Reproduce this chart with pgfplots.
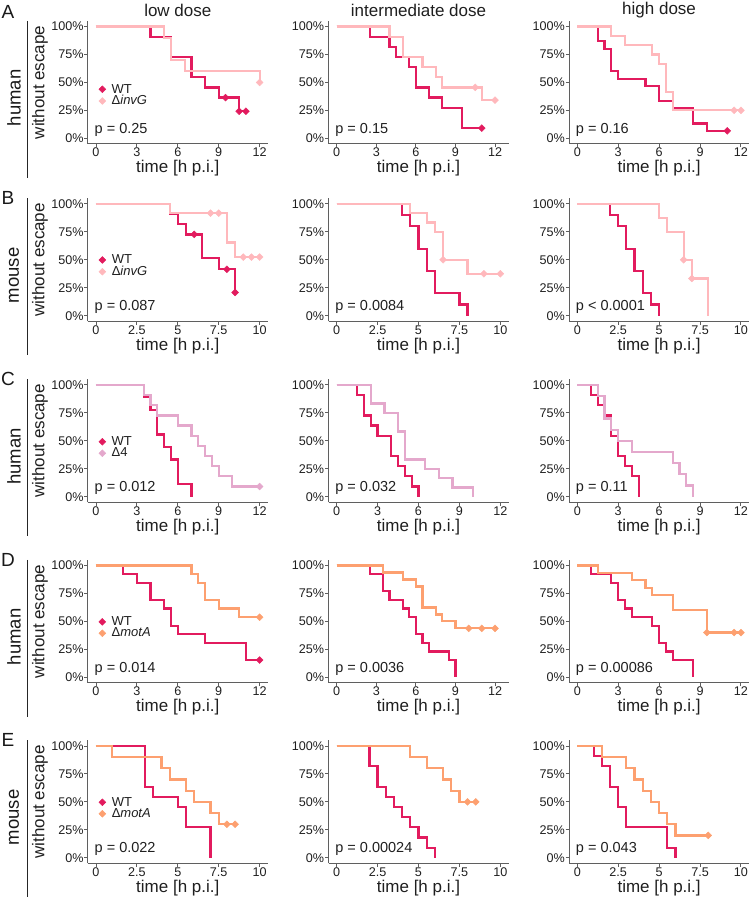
\documentclass[border=0pt]{standalone}
\usepackage{fontspec}
\setmainfont{Liberation Sans}
\usepackage{pgfplots}
\pgfplotsset{compat=1.18}
\definecolor{wt}{RGB}{226,27,94}
\definecolor{inv}{RGB}{255,184,188}
\definecolor{dfour}{RGB}{228,168,204}
\definecolor{mot}{RGB}{253,160,112}
\definecolor{axgray}{RGB}{95,95,95}
\newcommand{\fs}[1]{\fontsize{#1}{#1}\selectfont}
\pgfplotsset{
  km/.style={scale only axis, width=180pt, height=123pt, ymin=-0.05, ymax=1.05,
    ytick={0,0.25,0.5,0.75,1}, yticklabels={0\%,25\%,50\%,75\%,100\%},
    axis x line*=bottom, axis y line*=left,
    axis line style={axgray, line width=0.9pt},
    tick align=outside, major tick length=3.5pt,
    tick style={axgray, line width=0.9pt},
    tick label style={font=\fs{12.6}, text=black!88, inner sep=0.6pt},
    xlabel={time [h p.i.]},
    every axis x label/.style={at={(axis description cs:0.5,-0.198)}, anchor=center, font=\fs{17}, text=black!88},
    clip=false, anchor=south west},
  x12/.style={xmin=-0.6, xmax=12.6, xtick={0,3,6,9,12}, xticklabels={0,3,6,9,12}},
  x12w/.style={xmin=-0.62, xmax=13.02, xtick={0,3,6,9,12}, xticklabels={0,3,6,9,12}},
  x10/.style={xmin=-0.5, xmax=10.5, xtick={0,2.5,5,7.5,10}, xticklabels={0,2.5,5,7.5,10}},
  dotlegend/.style={legend image code/.code={\draw[##1] plot coordinates {(0.1cm,0cm)};}},
  first/.style 2 args={ylabel={without escape},
    every axis y label/.style={at={(axis description cs:-0.266,0.5)}, rotate=90, anchor=center, font=\fs{17}, text=black!88},
    legend cell align=left,
    legend style={at={(axis cs:#1,#2)}, anchor=west, draw=none, fill=none,
      font=\fs{13}, inner sep=0pt, row sep=-1pt, text=black!88,
      nodes={inner sep=1pt},
      /tikz/every odd column/.append style={column sep=5pt}}},
  ttl/.style={title={#1}, every axis title/.style={at={(axis description cs:0.5,1)}, anchor=center, yshift=10.9pt, font=\fs{17}, text=black!88}},
  ln/.style={const plot, #1, line width=2.2pt, forget plot},
  cen/.style={only marks, mark=square*, mark size=2.4pt, mark options={rotate=45, fill=#1, draw=#1, line width=0.5pt}, #1, forget plot},
  leg/.style={mark=square*, mark size=2.4pt, mark options={rotate=45, fill=#1, draw=#1, line width=0.5pt}, #1, dotlegend},
}
\newcommand{\pval}[1]{\node[anchor=west, inner sep=0pt, font=\fs{14.5}, text=black!88, xshift=-1.5pt] at (axis cs:0,0.075) {#1};}
\newcommand{\rowdeco}[4]{% #1 letter, #2 label, #3 axis-top pixel y, #4 letter pixel y
  \node[font=\fs{19}, text=black!90] at (8pt,{897pt-#4pt}) {#1};
  \draw[black!85, line width=0.9pt] (27pt,{897pt-#3pt}) -- (27pt,{897pt-#3pt-157pt});
  \node[rotate=90, font=\fs{18.5}, text=black!90] at (14pt,{897pt-#3pt-77pt}) {#2};}
\begin{document}
\begin{tikzpicture}
\useasboundingbox (0,0) rectangle (750pt,897pt);
\rowdeco{A}{human}{20.9}{12}
\rowdeco{B}{mouse}{198.3}{198.3}
\rowdeco{C}{human}{379.3}{379.3}
\rowdeco{D}{human}{559.9}{559.9}
\rowdeco{E}{mouse}{740.4}{740.4}
% ---------------- Row A
\begin{axis}[km, x12, first={0.2}{0.385}, ttl={low dose}, at={(87.8pt,753.1pt)}]
\addplot[ln=wt] coordinates {(0,1)(4,0.909)(5.5,0.727)(7,0.545)(8,0.455)(9,0.364)(10.5,0.242)(11,0.242)};
\addplot[ln=inv] coordinates {(0,1)(5,0.9)(5.5,0.7)(6.5,0.6)(12,0.5)};
\addplot[cen=inv] coordinates {(12,0.5)};
\addplot[cen=wt] coordinates {(9.5,0.364)(10.5,0.242)(11,0.242)};
\addlegendimage{leg=wt}\addlegendentry{WT}
\addlegendimage{leg=inv}\addlegendentry{Δ\textit{invG}}
\pval{p = 0.25}
\end{axis}
\begin{axis}[km, x12w, ttl={intermediate dose}, at={(328.5pt,753.1pt)}]
\addplot[ln=wt] coordinates {(0,1)(2.5,0.909)(4,0.818)(4.5,0.727)(5.5,0.636)(6,0.455)(7,0.364)(8,0.273)(9.5,0.091)(11,0.091)};
\addplot[ln=inv] coordinates {(0,1)(4,0.909)(5,0.727)(6.5,0.636)(7.5,0.545)(8,0.455)(11,0.341)(12,0.341)};
\addplot[cen=inv] coordinates {(10.5,0.455)(12,0.341)};
\addplot[cen=wt] coordinates {(11,0.091)};
\pval{p = 0.15}
\end{axis}
\begin{axis}[km, x12, ttl={high dose}, at={(569.1pt,753.1pt)}]
\addplot[ln=wt] coordinates {(0,1)(1.5,0.867)(2,0.8)(2.5,0.6)(3,0.533)(5,0.467)(6,0.333)(7,0.267)(8.5,0.133)(9.5,0.067)(11,0.067)};
\addplot[ln=inv] coordinates {(0,1)(2.5,0.917)(3.5,0.833)(5.5,0.75)(6,0.667)(6.5,0.417)(7,0.25)(12,0.25)};
\addplot[cen=inv] coordinates {(11.5,0.25)(12,0.25)};
\addplot[cen=wt] coordinates {(11,0.067)};
\pval{p = 0.16}
\end{axis}
% ---------------- Row B
\begin{axis}[km, x10, first={0.17}{0.445}, at={(87.8pt,575.7pt)}]
\addplot[ln=wt] coordinates {(0,1)(4.5,0.909)(5,0.818)(5.5,0.727)(6.5,0.519)(7.5,0.415)(8.5,0.208)};
\addplot[ln=inv] coordinates {(0,1)(4.5,0.917)(8,0.655)(8.5,0.524)(10,0.524)};
\addplot[cen=inv] coordinates {(7,0.917)(7.5,0.917)(9,0.524)(9.5,0.524)(10,0.524)};
\addplot[cen=wt] coordinates {(6,0.727)(8,0.415)(8.5,0.208)};
\addlegendimage{leg=wt}\addlegendentry{WT}
\addlegendimage{leg=inv}\addlegendentry{Δ\textit{invG}}
\pval{p = 0.087}
\end{axis}
\begin{axis}[km, x10, at={(328.5pt,575.7pt)}]
\addplot[ln=wt] coordinates {(0,1)(4,0.9)(4.5,0.8)(5,0.6)(5.5,0.4)(6,0.2)(7.5,0.1)(8,0)};
\addplot[ln=inv] coordinates {(0,1)(4.5,0.917)(5.5,0.833)(6,0.75)(6.5,0.5)(8,0.375)(10,0.375)};
\addplot[cen=inv] coordinates {(6.5,0.5)(9,0.375)(10,0.375)};
\pval{p = 0.0084}
\end{axis}
\begin{axis}[km, x10, at={(569.1pt,575.7pt)}]
\addplot[ln=wt] coordinates {(0,1)(2,0.9)(2.5,0.8)(3,0.6)(3.5,0.4)(4,0.2)(4.5,0.1)(5,0)};
\addplot[ln=inv] coordinates {(0,1)(5,0.875)(5.5,0.75)(6.5,0.5)(7,0.333)(8,0)};
\addplot[cen=inv] coordinates {(6.5,0.5)(7,0.333)};
\pval{p < 0.0001}
\end{axis}
% ---------------- Row C
\begin{axis}[km, x12, first={0.2}{0.44}, at={(87.8pt,394.7pt)}]
\addplot[ln=wt] coordinates {(0,1)(3.5,0.889)(4,0.778)(4.5,0.556)(5,0.444)(5.5,0.333)(6,0.111)(7,0)};
\addplot[ln=dfour] coordinates {(0,1)(3.5,0.909)(4,0.818)(4.5,0.727)(6,0.636)(7,0.545)(7.5,0.455)(8,0.364)(8.5,0.273)(9,0.182)(10,0.091)(12,0.091)};
\addplot[cen=dfour] coordinates {(12,0.091)};
\addlegendimage{leg=wt}\addlegendentry{WT}
\addlegendimage{leg=dfour}\addlegendentry{Δ4}
\pval{p = 0.012}
\end{axis}
\begin{axis}[km, x12, at={(328.5pt,394.7pt)}]
\addplot[ln=wt] coordinates {(0,1)(1.5,0.909)(2,0.727)(2.5,0.636)(3,0.545)(4,0.364)(4.5,0.273)(5,0.182)(5.5,0.091)(6,0)};
\addplot[ln=dfour] coordinates {(0,1)(2.5,0.833)(3.5,0.75)(4.5,0.583)(5,0.333)(6.5,0.25)(7.5,0.167)(8.5,0.083)(10,0)};
\pval{p = 0.032}
\end{axis}
\begin{axis}[km, x12, at={(569.1pt,394.7pt)}]
\addplot[ln=wt] coordinates {(0,1)(1,0.909)(1.5,0.818)(2,0.727)(2.5,0.545)(3,0.364)(3.5,0.273)(4,0.182)(4.5,0)};
\addplot[ln=dfour] coordinates {(0,1)(1.5,0.9)(2,0.7)(2.5,0.6)(3,0.5)(4,0.4)(7,0.3)(7.5,0.2)(8,0.1)(8.5,0)};
\pval{p = 0.11}
\end{axis}
% ---------------- Row D
\begin{axis}[km, x12, first={0.2}{0.445}, at={(87.8pt,214.1pt)}]
\addplot[ln=wt] coordinates {(0,1)(2,0.923)(3,0.846)(4,0.692)(5,0.615)(5.5,0.462)(6,0.385)(8,0.308)(11,0.154)(12,0.154)};
\addplot[ln=mot] coordinates {(0,1)(7,0.923)(7.5,0.846)(8,0.692)(9,0.615)(10.5,0.538)(12,0.538)};
\addplot[cen=mot] coordinates {(12,0.538)};
\addplot[cen=wt] coordinates {(12,0.154)};
\addlegendimage{leg=wt}\addlegendentry{WT}
\addlegendimage{leg=mot}\addlegendentry{Δ\textit{motA}}
\pval{p = 0.014}
\end{axis}
\begin{axis}[km, x12w, at={(328.5pt,214.1pt)}]
\addplot[ln=wt] coordinates {(0,1)(2.5,0.923)(3.5,0.769)(4,0.692)(5,0.615)(5.5,0.538)(6,0.385)(6.5,0.308)(7,0.231)(8.5,0.154)(9,0)};
\addplot[ln=mot] coordinates {(0,1)(3.5,0.9375)(5,0.875)(6,0.8125)(6.5,0.625)(7.5,0.5625)(8,0.5)(9,0.4375)(12,0.4375)};
\addplot[cen=mot] coordinates {(10,0.4375)(11,0.4375)(12,0.4375)};
\pval{p = 0.0036}
\end{axis}
\begin{axis}[km, x12, at={(569.1pt,214.1pt)}]
\addplot[ln=wt] coordinates {(0,1)(1,0.923)(2.5,0.846)(3,0.692)(3.5,0.615)(4,0.538)(5.5,0.462)(6,0.308)(6.5,0.231)(7,0.154)(8.5,0)};
\addplot[ln=mot] coordinates {(0,1)(1.5,0.933)(4,0.867)(5,0.8)(5.5,0.733)(7,0.6)(9.5,0.4)(12,0.4)};
\addplot[cen=mot] coordinates {(9.5,0.4)(11.5,0.4)(12,0.4)};
\pval{p = 0.00086}
\end{axis}
% ---------------- Row E
\begin{axis}[km, x10, first={0.17}{0.445}, at={(87.8pt,33.6pt)}]
\addplot[ln=wt] coordinates {(0,1)(3,0.636)(3.5,0.545)(5,0.455)(5.5,0.273)(7,0)};
\addplot[ln=mot] coordinates {(0,1)(1,0.9)(4,0.8)(4.5,0.7)(5.5,0.6)(6,0.5)(7,0.4)(7.5,0.3)(8.5,0.3)};
\addplot[cen=mot] coordinates {(8,0.3)(8.5,0.3)};
\addlegendimage{leg=wt}\addlegendentry{WT}
\addlegendimage{leg=mot}\addlegendentry{Δ\textit{motA}}
\pval{p = 0.022}
\end{axis}
\begin{axis}[km, x10, at={(328.5pt,33.6pt)}]
\addplot[ln=wt] coordinates {(0,1)(2,0.818)(2.5,0.636)(3,0.545)(3.5,0.455)(4,0.364)(4.5,0.273)(5,0.182)(5.5,0.091)(6,0)};
\addplot[ln=mot] coordinates {(0,1)(4.5,0.9)(5.5,0.8)(6.5,0.7)(7,0.6)(7.5,0.5)(8.5,0.5)};
\addplot[cen=mot] coordinates {(8,0.5)(8.5,0.5)};
\pval{p = 0.00024}
\end{axis}
\begin{axis}[km, x10, at={(569.1pt,33.6pt)}]
\addplot[ln=wt] coordinates {(0,1)(1,0.909)(1.5,0.818)(2,0.636)(2.5,0.455)(3,0.273)(5.5,0.091)(6,0)};
\addplot[ln=mot] coordinates {(0,1)(1.5,0.9)(3,0.8)(3.5,0.7)(4,0.6)(4.5,0.5)(5,0.4)(5.5,0.3)(6,0.2)(8,0.2)};
\addplot[cen=mot] coordinates {(8,0.2)};
\pval{p = 0.043}
\end{axis}
\end{tikzpicture}
\end{document}
